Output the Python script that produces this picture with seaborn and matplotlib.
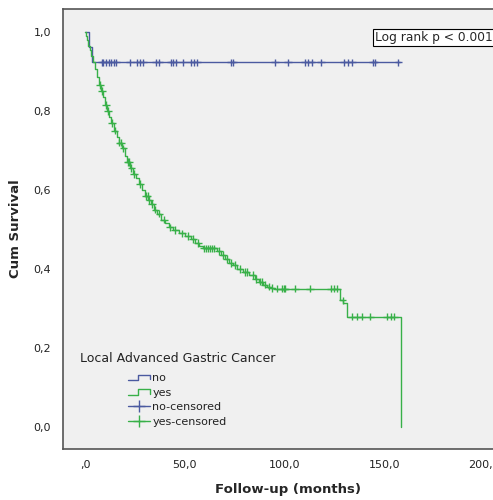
import matplotlib
matplotlib.use('Agg')
import matplotlib.pyplot as plt
import numpy as np
import pandas as pd
import seaborn as sns
from matplotlib.legend_handler import HandlerBase
from matplotlib.lines import Line2D

# Kaplan-Meier step values
no_time = [0, 2, 3.5, 158]
no_surv = [1.0, 0.962, 0.923, 0.923]
no_cens = [8.4, 9.2, 10.6, 11.8, 13.1, 14.3, 15.7, 22.4, 26.1, 27.4, 29.1, 35.4, 37.0,
           42.9, 44.1, 45.5, 49.3, 53.0, 54.4, 56.1, 73.2, 74.4, 95.1, 101.9, 110.3,
           112.0, 113.6, 118.3, 129.6, 131.8, 133.8, 144.5, 145.2, 157.1]

yes_time = [0, 0.5, 1, 1.5, 2.5, 3, 4, 5, 6, 7, 8, 9, 10, 11, 12, 13, 14.5, 16, 17, 18.5,
            20, 21, 22.5, 24, 25.5, 27, 28.5, 30, 31.5, 33, 34.5, 36, 38, 40, 42, 44, 47,
            50, 53, 55, 57, 59, 66, 68, 70, 72, 74, 76, 79, 82, 85, 87, 89, 91, 93, 95,
            127.6, 129.3, 131.3, 158.6, 158.6]
yes_surv = [1.0, 0.99, 0.98, 0.965, 0.955, 0.94, 0.923, 0.905, 0.885, 0.865, 0.85, 0.835,
            0.815, 0.80, 0.785, 0.77, 0.75, 0.735, 0.72, 0.705, 0.685, 0.67, 0.655, 0.64,
            0.63, 0.615, 0.60, 0.585, 0.575, 0.565, 0.55, 0.54, 0.525, 0.515, 0.505, 0.498,
            0.49, 0.483, 0.475, 0.465, 0.458, 0.452, 0.445, 0.435, 0.425, 0.415, 0.41, 0.40,
            0.392, 0.385, 0.375, 0.368, 0.36, 0.355, 0.352, 0.350, 0.320, 0.313, 0.279,
            0.0, 0.0]
yes_cens = [7.5, 8.5, 10.5, 11.5, 13.5, 14.8, 17.2, 18.0, 19.2, 21.3, 22.0, 23.2, 24.5,
            27.6, 30.5, 31.3, 32.2, 33.4, 35.2, 37.3, 39.5, 42.5, 45.0, 48.5, 51.5, 54.0,
            56.5, 59.5, 60.5, 61.5, 62.5, 63.5, 64.5, 67.0, 69.0, 71.0, 73.0, 75.0, 77.5,
            80.0, 81.0, 84.0, 85.5, 87.5, 88.5, 90.0, 92.0, 93.5, 96.0, 98.5, 99.6, 100.2,
            105.2, 112.8, 123.2, 124.6, 126.3, 129.1, 133.8, 136.4, 138.9, 143.1, 151.5,
            153.2, 154.9]

x_ticks = [0, 50, 100, 150, 200]
x_tick_labels = [',0', '50,0', '100,0', '150,0', '200,0']
y_ticks = [0.0, 0.2, 0.4, 0.6, 0.8, 1.0]
y_tick_labels = ['0,0', '0,2', '0,4', '0,6', '0,8', '1,0']

blue = '#4b5aa0'
green = '#38b048'


def surv_at(times, survs, t):
    idx = np.searchsorted(times, t, side='right') - 1
    return [survs[i] for i in idx]


curves = pd.concat([
    pd.DataFrame({'time': no_time, 'surv': no_surv, 'group': 'no'}),
    pd.DataFrame({'time': yes_time, 'surv': yes_surv, 'group': 'yes'}),
])
cens = pd.concat([
    pd.DataFrame({'time': no_cens, 'surv': surv_at(no_time, no_surv, no_cens), 'group': 'no'}),
    pd.DataFrame({'time': yes_cens, 'surv': surv_at(yes_time, yes_surv, yes_cens), 'group': 'yes'}),
])

sns.set_style('white')
plt.rcParams['font.family'] = ['DejaVu Sans']

fig = plt.figure(figsize=(4.93, 5.0), dpi=100)
ax = fig.add_axes([63 / 493, 51 / 500, 450 / 493, 440 / 500])
ax.set_facecolor('#f0f0f0')

palette = {'no': blue, 'yes': green}
for g, sub in curves.groupby('group'):
    sns.lineplot(data=sub, x='time', y='surv', ax=ax, color=palette[g],
                 drawstyle='steps-post', linewidth=1.0, sort=False,
                 estimator=None, legend=False)
sns.scatterplot(data=cens, x='time', y='surv', hue='group', palette=palette,
                marker='+', s=30, linewidth=1.0, ax=ax, legend=False, zorder=3)

ax.set_xlim(-11.1, 214.6)
ax.set_ylim(-0.056, 1.058)
ax.set_xticks(x_ticks)
ax.set_xticklabels(x_tick_labels)
ax.set_yticks(y_ticks)
ax.set_yticklabels(y_tick_labels)
ax.tick_params(axis='both', direction='out', length=5, width=1, colors='#333333',
               labelsize=8, labelcolor='#222222')
ax.tick_params(axis='x', pad=3)
for sp in ax.spines.values():
    sp.set_color('#555555')
    sp.set_linewidth(1.2)

ax.set_xlabel('Follow-up (months)', fontsize=9.5, fontweight='bold', labelpad=9)
ax.set_ylabel('Cum Survival', fontsize=9.5, fontweight='bold', labelpad=8)

ax.text(145.3, 0.985, 'Log rank p < 0.001', fontsize=8.8, va='center', ha='left',
        bbox=dict(boxstyle='square,pad=0.15', facecolor='white', edgecolor='black', linewidth=0.8))

# legend title sits on its own, entries are indented below it
ax.text(17 / 450, 91 / 440, 'Local Advanced Gastric Cancer', transform=ax.transAxes,
        fontsize=9, color='#222222', va='center', ha='left')


class StepHandler(HandlerBase):
    def create_artists(self, legend, orig_handle, xd, yd, w, h, fontsize, trans):
        xs = [xd, xd + w * 0.45, xd + w * 0.45, xd + w, xd + w]
        ys = [yd + h * 0.1, yd + h * 0.1, yd + h * 0.8, yd + h * 0.8, yd + h * 0.25]
        ln = Line2D(xs, ys, color=orig_handle.get_color(), linewidth=1.0, transform=trans)
        return [ln]


handles = [
    Line2D([], [], color=blue),
    Line2D([], [], color=green),
    Line2D([], [], color=blue, marker='+', markersize=9, linewidth=1.0),
    Line2D([], [], color=green, marker='+', markersize=9, linewidth=1.0),
]
leg = ax.legend(handles, ['no', 'yes', 'no-censored', 'yes-censored'],
                loc='upper left', bbox_to_anchor=(65 / 450, 76 / 440),
                borderpad=0, borderaxespad=0, frameon=False, fontsize=8,
                handlelength=2.0, handletextpad=0.2, labelspacing=0.42,
                handler_map={handles[0]: StepHandler(), handles[1]: StepHandler()})
for t in leg.get_texts():
    t.set_color('#222222')

fig.savefig('out.png', dpi=100, facecolor='white')
